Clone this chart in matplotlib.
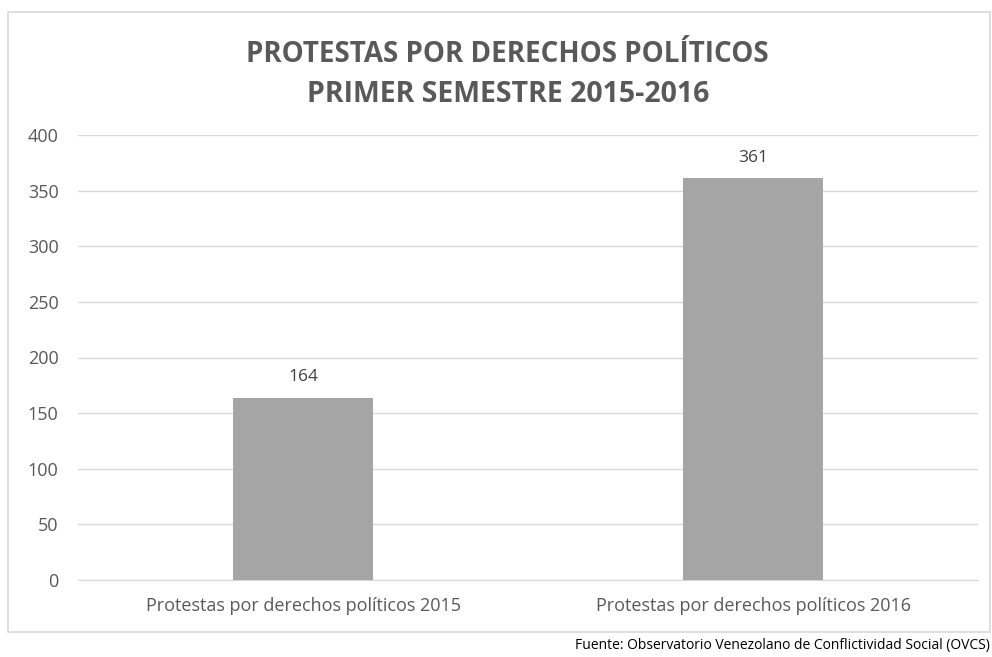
import matplotlib
matplotlib.use("Agg")
import matplotlib.pyplot as plt
from matplotlib.patches import Rectangle

categories = ["Protestas por derechos políticos 2015", "Protestas por derechos políticos 2016"]
values = [164, 361]
yticks = [0, 50, 100, 150, 200, 250, 300, 350, 400]

plt.rcParams["font.family"] = ["Open Sans", "DejaVu Sans"]
grey = "#595959"

fig = plt.figure(figsize=(9.92, 6.57), dpi=100)
fig.patches.append(Rectangle((8/992, 1 - 632/657), 982/992, 620/657, transform=fig.transFigure,
                             fill=False, edgecolor="#D9D9D9", linewidth=1.2))

ax = fig.add_axes([78/992, 77/657, 900/992, 445/657])
x = list(range(len(categories)))
bars = ax.bar(x, values, width=0.31, color="#A5A5A5", zorder=3)
ax.set_xlim(-0.5, 1.5)
ax.set_ylim(0, 400)
ax.set_yticks(yticks)
ax.set_xticks(x)
ax.set_xticklabels(categories, fontsize=13, color=grey)
ax.tick_params(axis="y", labelsize=13, labelcolor=grey, length=0, pad=14)
ax.tick_params(axis="x", length=0, pad=12)
ax.grid(axis="y", color="#D9D9D9", linewidth=1, zorder=0)
for s in ["top", "right", "left"]:
    ax.spines[s].set_visible(False)
ax.spines["bottom"].set_color("#D9D9D9")
for b, v in zip(bars, values):
    ax.text(b.get_x() + b.get_width() / 2, v + 11, str(v), ha="center", va="bottom",
            fontsize=12.5, color="#404040")

fig.text(507/992, 1 - 54/657, "PROTESTAS POR DERECHOS POLÍTICOS", ha="center", va="center",
         fontsize=20, fontweight="bold", color=grey)
fig.text(508/992, 1 - 95/657, "PRIMER SEMESTRE 2015-2016", ha="center", va="center",
         fontsize=20.5, fontweight="bold", color=grey)
fig.text(990/992, 1 - 646/657, "Fuente: Observatorio Venezolano de Conflictividad Social (OVCS)",
         ha="right", va="center", fontsize=10, color="black")

fig.savefig("out.png", dpi=100)
